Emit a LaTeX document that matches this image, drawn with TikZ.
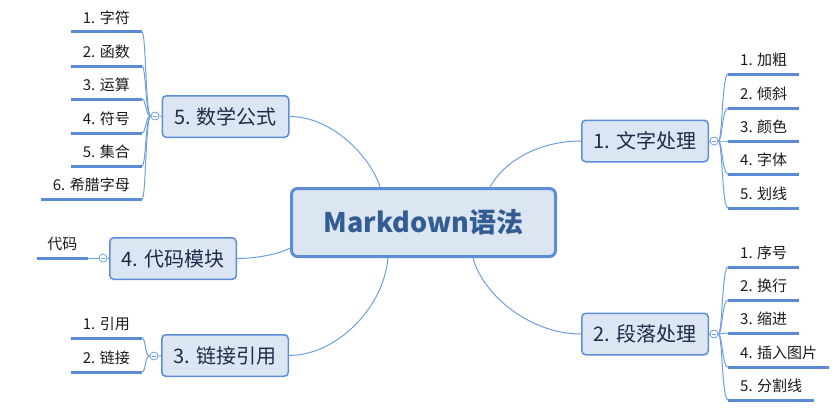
\documentclass[tikz,border=0pt]{standalone}
\usepackage{fontspec}
\setmainfont{Noto Sans CJK SC}
\definecolor{nodefill}{HTML}{DCE6F2}
\definecolor{bord}{HTML}{5B8ED6}
\definecolor{ulcol}{HTML}{5B8BD4}
\definecolor{linkcol}{HTML}{6F9FE0}
\definecolor{roottext}{HTML}{335C93}
\definecolor{topictext}{HTML}{1C2C48}
\definecolor{leaftext}{HTML}{1A1A1A}
\tikzset{
  rootbox/.style={draw=bord, line width=3pt, fill=nodefill, rounded corners=6pt,
    minimum width=264pt, minimum height=68pt, inner sep=0pt,
    font=\fontsize{27}{32}\selectfont\bfseries, text=roottext},
  topicbox/.style={draw=bord, line width=1.5pt, fill=nodefill, rounded corners=4pt,
    minimum width=126.5pt, minimum height=41.5pt, inner sep=0pt,
    font=\fontsize{20}{24}\selectfont, text=topictext},
  leafbox/.style={inner xsep=12pt, inner ysep=5pt, text height=13pt, text depth=3pt,
    font=\fontsize{15}{18}\selectfont, text=leaftext},
  uline/.style={draw=ulcol, line width=3pt},
  link/.style={draw=linkcol, line width=1pt},
  togbox/.style={circle, draw=linkcol, fill=white, line width=0.8pt, minimum size=8pt,
    inner sep=0pt, path picture={\draw[linkcol, line width=0.8pt]
      ([xshift=-2pt]path picture bounding box.center) -- ([xshift=2pt]path picture bounding box.center);}}
}
\begin{document}
\begin{tikzpicture}[x=1pt,y=-1pt]
\useasboundingbox[fill=white] (0,0) rectangle (834,412);

% root
\node[rootbox] (root) at (423.5,222.5) {Markdown语法};

% topics
\node[topicbox] (t5) at (225.5,116.5) {5. 数学公式};
\node[topicbox] (t4) at (173,258.5) {4. 代码模块};
\node[topicbox] (t3) at (225,355.5) {3. 链接引用};
\node[topicbox] (t1) at (645,141) {1. 文字处理};
\node[topicbox] (t2) at (645,334) {2. 段落处理};

% root connectors
\draw[link] (t5.east) .. controls +(45,0) and +(-8,-27) .. ([xshift=-43.5pt]root.north);
\draw[link] ([xshift=66.5pt]root.north) .. controls +(15,-27) and +(-41,0) .. (t1.west);
\draw[link] ([xshift=49.5pt]root.south) .. controls +(10,37) and +(-51,0) .. (t2.west);
\draw[link] ([xshift=-35.5pt]root.south) .. controls +(-5,52) and +(46,0) .. (t3.east);
\draw[link] ([yshift=-25.5pt]root.west) .. controls +(-15,8) and +(13,0) .. (t4.east);

% toggles
\node[togbox] (g5) at (155,116) {};
\node[togbox] (g4) at (103,258) {};
\node[togbox] (g3) at (154,356) {};
\node[togbox] (g1) at (714,141) {};
\node[togbox] (g2) at (714,334) {};
\draw[link] (g5.east) -- (t5.west);
\draw[link] (g4.east) -- (t4.west);
\draw[link] (g3.east) -- (t3.west);
\draw[link] (g1.west) -- (t1.east);
\draw[link] (g2.west) -- (t2.east);

% leaves of 5
\foreach \i/\y/\t in {1/32/{1. 字符},2/66/{2. 函数},3/99/{3. 运算},4/133/{4. 符号},5/166/{5. 集合},6/199/{6. 希腊字母}}{
  \node[leafbox, anchor=south east] (a\i) at (142,\y) {\t};
  \draw[uline] (a\i.south west) -- (a\i.south east);
  \draw[link] (g5.west) .. controls +(-5,0) and +(4,0) .. (a\i.south east);
}

% leaf of 4
\node[leafbox, anchor=south east, inner xsep=10.5pt] (c1) at (88,258) {代码};
\draw[uline] (c1.south west) -- (c1.south east);
\draw[link] (g4.west) -- (c1.south east);

% leaves of 3
\foreach \i/\y/\t in {1/338/{1. 引用},2/372/{2. 链接}}{
  \node[leafbox, anchor=south east] (d\i) at (142,\y) {\t};
  \draw[uline] (d\i.south west) -- (d\i.south east);
  \draw[link] (g3.west) .. controls +(-5,0) and +(4,0) .. (d\i.south east);
}

% leaves of 1
\foreach \i/\y/\t in {1/74/{1. 加粗},2/108/{2. 倾斜},3/141/{3. 颜色},4/174/{4. 字体},5/208/{5. 划线}}{
  \node[leafbox, anchor=south west] (b\i) at (728,\y) {\t};
  \draw[uline] (b\i.south west) -- (b\i.south east);
  \draw[link] (g1.east) .. controls +(4,0) and +(-6,0) .. (b\i.south west);
}

% leaves of 2
\foreach \i/\y/\t in {1/267/{1. 序号},2/300/{2. 换行},3/333/{3. 缩进},4/367/{4. 插入图片},5/400/{5. 分割线}}{
  \node[leafbox, anchor=south west] (e\i) at (728,\y) {\t};
  \draw[uline] (e\i.south west) -- (e\i.south east);
  \draw[link] (g2.east) .. controls +(4,0) and +(-6,0) .. (e\i.south west);
}
\end{tikzpicture}
\end{document}
